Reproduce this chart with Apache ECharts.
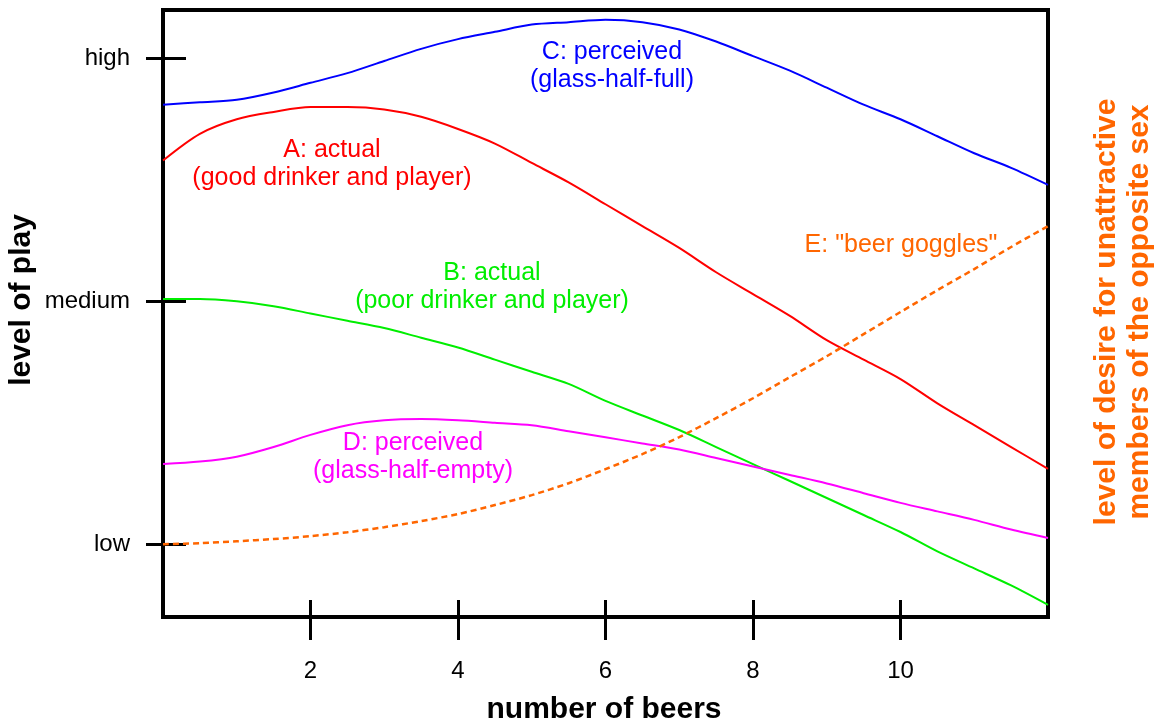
<!DOCTYPE html>
<html>
<head>
<meta charset="utf-8">
<script src="https://cdn.jsdelivr.net/npm/echarts@6/dist/echarts.min.js"></script>
<style>
html,body{margin:0;padding:0;background:#fff;}
#chart{width:1159px;height:724px;}
</style>
</head>
<body>
<div id="chart"></div>
<script>
// ---- data (level of play: low = 0, medium = 1, high = 2) ----
const beers = [0, 0.5, 1, 1.5, 2, 2.5, 3, 3.5, 4, 4.5, 5, 5.5, 6, 6.5, 7, 7.5, 8, 8.5, 9, 9.5, 10, 10.5, 11, 11.5, 12];
const actualGood     = [1.58, 1.69, 1.75, 1.78, 1.80, 1.80, 1.79, 1.76, 1.71, 1.65, 1.57, 1.49, 1.40, 1.31, 1.22, 1.12, 1.03, 0.94, 0.84, 0.76, 0.68, 0.58, 0.49, 0.40, 0.31];
const actualPoor     = [1.01, 1.01, 1.00, 0.98, 0.95, 0.92, 0.89, 0.85, 0.81, 0.76, 0.71, 0.66, 0.59, 0.53, 0.47, 0.40, 0.33, 0.26, 0.19, 0.12, 0.05, -0.03, -0.10, -0.17, -0.25];
const perceivedFull  = [1.81, 1.82, 1.83, 1.86, 1.90, 1.94, 1.99, 2.04, 2.08, 2.11, 2.14, 2.15, 2.16, 2.15, 2.12, 2.07, 2.01, 1.95, 1.88, 1.81, 1.75, 1.68, 1.61, 1.55, 1.48];
const perceivedEmpty = [0.33, 0.34, 0.36, 0.40, 0.45, 0.49, 0.51, 0.515, 0.51, 0.50, 0.49, 0.465, 0.44, 0.415, 0.39, 0.355, 0.32, 0.285, 0.25, 0.21, 0.17, 0.135, 0.10, 0.06, 0.025];
const beerGoggles    = [0.00, 0.004, 0.012, 0.021, 0.033, 0.049, 0.07, 0.095, 0.124, 0.161, 0.202, 0.251, 0.309, 0.371, 0.441, 0.519, 0.601, 0.688, 0.774, 0.865, 0.956, 1.046, 1.133, 1.224, 1.31];
const xTicks = [2, 4, 6, 8, 10];
const yTickValues = [0, 1, 2];
const yTickLabels = ['low', 'medium', 'high'];

const FONT = '"Liberation Sans", Arial, Helvetica, sans-serif';
const pair = arr => beers.map((b, i) => [b, arr[i]]);

const chart = echarts.init(document.getElementById('chart'));

function lineSeries(name, arr, color, dashed) {
  return {
    name, type: 'line', data: pair(arr), smooth: 0.3, symbol: 'none',
    xAxisIndex: 0, yAxisIndex: 0,
    lineStyle: { color, width: dashed ? 2.5 : 2, type: dashed ? [6, 4] : 'solid' },
    z: 3
  };
}

function txt(x, y, text, color) {
  return {
    type: 'text', x, y,
    style: { text, fill: color, font: '25px ' + FONT, align: 'center', verticalAlign: 'middle', lineHeight: 28 },
    z: 10
  };
}

const tickStyle = { color: '#000', width: 3 };

chart.setOption({
  animation: false,
  backgroundColor: '#ffffff',
  grid: { left: 163, right: 111, top: 10, bottom: 107, show: true, borderColor: '#000', borderWidth: 4, backgroundColor: 'transparent', containLabel: false },
  xAxis: [
    {
      type: 'value', min: 0, max: 12, interval: 2, position: 'bottom',
      axisLine: { show: false, onZero: false },
      axisTick: { show: true, inside: true, length: 17, customValues: xTicks, lineStyle: tickStyle },
      axisLabel: { customValues: xTicks, margin: 42, color: '#000', fontSize: 24, fontFamily: FONT },
      splitLine: { show: false }
    },
    {
      type: 'value', min: 0, max: 12, interval: 2, position: 'bottom',
      axisLine: { show: false, onZero: false },
      axisTick: { show: true, inside: false, length: 23, customValues: xTicks, lineStyle: tickStyle },
      axisLabel: { show: false },
      splitLine: { show: false }
    }
  ],
  yAxis: [
    {
      type: 'value', min: -0.3, max: 2.2, position: 'left',
      axisLine: { show: false, onZero: false },
      axisTick: { show: true, inside: false, length: 17, customValues: yTickValues, lineStyle: tickStyle },
      axisLabel: { customValues: yTickValues, margin: 33, color: '#000', fontSize: 24, fontFamily: FONT,
        formatter: v => yTickLabels[yTickValues.indexOf(Math.round(v))] },
      splitLine: { show: false }
    },
    {
      type: 'value', min: -0.3, max: 2.2, position: 'left',
      axisLine: { show: false, onZero: false },
      axisTick: { show: true, inside: true, length: 23, customValues: yTickValues, lineStyle: tickStyle },
      axisLabel: { show: false },
      splitLine: { show: false }
    }
  ],
  series: [
    lineSeries('C', perceivedFull, '#0000ff'),
    lineSeries('A', actualGood, '#ff0000'),
    lineSeries('B', actualPoor, '#00ee00'),
    lineSeries('D', perceivedEmpty, '#ff00ff'),
    lineSeries('E', beerGoggles, '#ff6600', true)
  ],
  graphic: [
    txt(612, 66, 'C: perceived\n(glass-half-full)', '#0000ff'),
    txt(332, 164, 'A: actual\n(good drinker and player)', '#ff0000'),
    txt(492, 287, 'B: actual\n(poor drinker and player)', '#00ee00'),
    txt(413, 457, 'D: perceived\n(glass-half-empty)', '#ff00ff'),
    txt(901, 245, 'E: "beer goggles"', '#ff6600'),
    { type: 'text', x: 604, y: 710,
      style: { text: 'number of beers', fill: '#000', font: 'bold 30px ' + FONT, align: 'center', verticalAlign: 'middle' } },
    { type: 'text', x: 22, y: 300, rotation: Math.PI / 2,
      style: { text: 'level of play', fill: '#000', font: 'bold 30px ' + FONT, align: 'center', verticalAlign: 'middle' } },
    { type: 'text', x: 1123, y: 312, rotation: Math.PI / 2,
      style: { text: 'level of desire for unattractive\nmembers of the opposite sex', fill: '#ff6600', font: 'bold 30px ' + FONT, align: 'center', verticalAlign: 'middle', lineHeight: 33 } }
  ]
});
</script>
</body>
</html>
